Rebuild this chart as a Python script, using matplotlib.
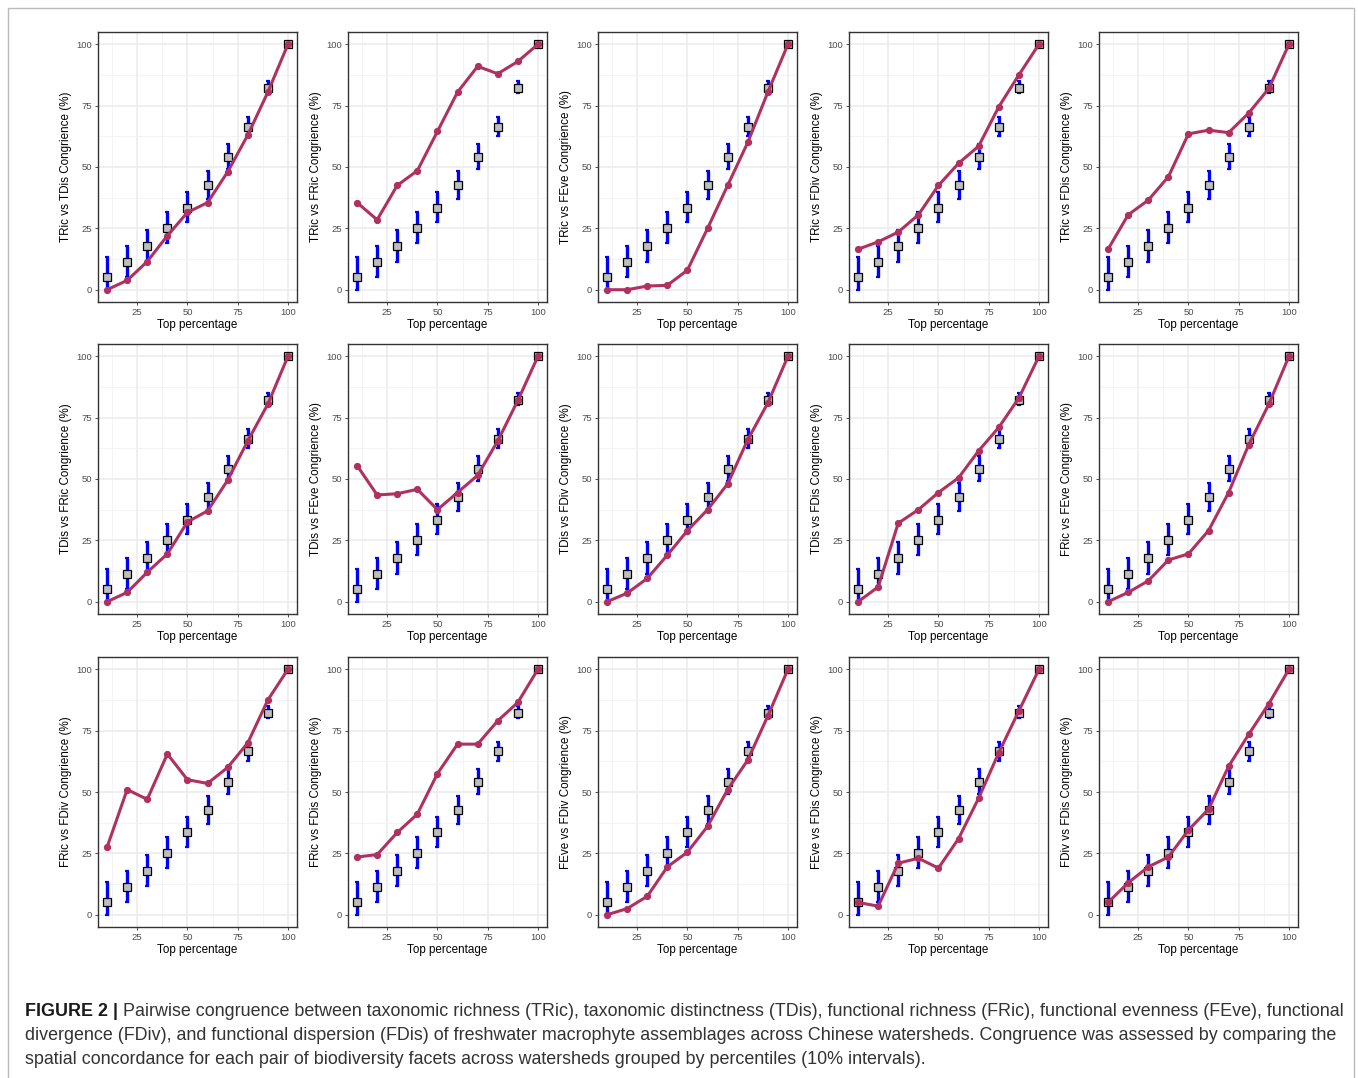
import matplotlib
matplotlib.use("Agg")
import matplotlib.pyplot as plt
from matplotlib.patches import Rectangle
import numpy as np

plt.rcParams['font.family'] = ['Liberation Sans', 'DejaVu Sans']

# ---------------- data ----------------
top_pct = [10, 20, 30, 40, 50, 60, 70, 80, 90, 100]

# null expectation (same in every panel)
null_mean = [5.3, 11.2, 17.7, 25.2, 33.5, 42.7, 54.1, 66.5, 82.2, 100.0]
null_low = [0.0, 5.0, 11.5, 19.0, 27.5, 37.0, 49.0, 62.5, 80.0, 100.0]
null_high = [13.5, 18.0, 24.5, 31.8, 40.0, 48.5, 59.5, 70.5, 85.0, 100.0]

pair_labels = [
    "TRic vs TDis", "TRic vs FRic", "TRic vs FEve", "TRic vs FDiv", "TRic vs FDis",
    "TDis vs FRic", "TDis vs FEve", "TDis vs FDiv", "TDis vs FDis", "FRic vs FEve",
    "FRic vs FDiv", "FRic vs FDis", "FEve vs FDiv", "FEve vs FDis", "FDiv vs FDis",
]

tric_tdis = [0.0, 3.8, 11.5, 22.0, 31.5, 35.5, 48.0, 63.0, 80.5, 100.0]
tric_fric = [35.5, 28.5, 42.5, 48.5, 64.5, 80.5, 91.0, 88.0, 93.0, 100.0]
tric_feve = [0.0, 0.0, 1.5, 1.8, 8.0, 25.0, 42.5, 60.0, 80.5, 100.0]
tric_fdiv = [16.5, 19.5, 23.5, 30.5, 42.5, 51.5, 58.5, 74.5, 87.5, 100.0]
tric_fdis = [16.5, 30.5, 36.5, 46.0, 63.5, 65.0, 64.0, 72.0, 82.0, 100.0]
tdis_fric = [0.0, 3.8, 12.0, 19.5, 32.5, 37.0, 49.5, 65.5, 80.5, 100.0]
tdis_feve = [55.5, 43.5, 44.0, 45.8, 37.5, 44.5, 51.5, 65.5, 82.0, 100.0]
tdis_fdiv = [0.0, 3.5, 9.5, 19.0, 29.0, 37.5, 48.0, 66.0, 81.0, 100.0]
tdis_fdis = [0.0, 6.0, 32.0, 37.5, 44.5, 50.5, 61.5, 71.0, 83.0, 100.0]
fric_feve = [0.0, 3.8, 8.5, 17.0, 19.5, 29.0, 44.5, 64.0, 80.5, 100.0]
fric_fdiv = [27.5, 51.0, 47.0, 65.5, 55.0, 53.5, 60.0, 70.0, 87.5, 100.0]
fric_fdis = [23.5, 24.5, 33.5, 41.0, 57.5, 69.5, 69.5, 79.0, 86.5, 100.0]
feve_fdiv = [0.0, 2.5, 7.5, 19.5, 25.5, 36.0, 51.0, 63.0, 81.0, 100.0]
feve_fdis = [5.0, 3.5, 21.0, 23.0, 19.0, 31.0, 47.5, 66.0, 83.0, 100.0]
fdiv_fdis = [5.0, 13.0, 19.5, 23.5, 34.5, 43.0, 60.5, 73.5, 86.0, 100.0]

observed = [tric_tdis, tric_fric, tric_feve, tric_fdiv, tric_fdis,
            tdis_fric, tdis_feve, tdis_fdiv, tdis_fdis, fric_feve,
            fric_fdiv, fric_fdis, feve_fdiv, feve_fdis, fdiv_fdis]

x_ticks = [25, 50, 75, 100]
y_ticks = [0, 25, 50, 75, 100]

caption_bold = "FIGURE 2 |"
caption_lines = [
    " Pairwise congruence between taxonomic richness (TRic), taxonomic distinctness (TDis), functional richness (FRic), functional evenness (FEve), functional",
    "divergence (FDiv), and functional dispersion (FDis) of freshwater macrophyte assemblages across Chinese watersheds. Congruence was assessed by comparing the",
    "spatial concordance for each pair of biodiversity facets across watersheds grouped by percentiles (10% intervals).",
]

# ---------------- layout ----------------
W, H = 1358, 1078
fig = plt.figure(figsize=(W / 100, H / 100), dpi=100)
fig.patch.set_facecolor("white")

col_left = [98, 348, 598, 849, 1099]
row_top = [32, 344, 657]
aw, ah = 199, 270

line_col = "#B03060"
x_arr = np.array(top_pct)
lo_err = np.array(null_mean) - np.array(null_low)
hi_err = np.array(null_high) - np.array(null_mean)

for i, (lab, obs) in enumerate(zip(pair_labels, observed)):
    r, c = divmod(i, 5)
    ax = fig.add_axes([col_left[c] / W, 1 - (row_top[r] + ah) / H, aw / W, ah / H])
    ax.set_xlim(5.5, 104.5)
    ax.set_ylim(-5, 105)
    ax.set_xticks(x_ticks)
    ax.set_yticks(y_ticks)
    ax.set_xticks([12.5, 37.5, 62.5, 87.5], minor=True)
    ax.set_yticks([12.5, 37.5, 62.5, 87.5], minor=True)
    ax.grid(True, which="major", color="#EBEBEB", linewidth=1.1, zorder=0)
    ax.grid(True, which="minor", color="#F2F2F2", linewidth=0.6, zorder=0)
    ax.set_axisbelow(True)
    ax.tick_params(which="minor", length=0)
    ax.tick_params(which="major", length=2.5, width=0.6, color="#333333",
                   labelsize=6.8, labelcolor="#4D4D4D", pad=2)
    for s in ax.spines.values():
        s.set_color("#333333")
        s.set_linewidth(1.0)

    ax.errorbar(x_arr, null_mean, yerr=[lo_err, hi_err], fmt="none",
                ecolor="#0000FF", elinewidth=2.4, capsize=1.6, capthick=1.6, zorder=2)
    ax.plot(x_arr, null_mean, linestyle="none", marker="s", markersize=5.2,
            markerfacecolor="#BEBEBE", markeredgecolor="black", markeredgewidth=0.9, zorder=3)
    ax.plot(x_arr, obs, color=line_col, linewidth=2.2, marker="o", markersize=4.2,
            markerfacecolor=line_col, markeredgecolor=line_col, zorder=4)

    ax.set_xlabel("Top percentage", fontsize=8.4, color="black", labelpad=1.5)
    ax.set_ylabel(f"{lab} Congrience (%)", fontsize=8.4, color="black", labelpad=3)

# frame around figure
fig.patches.append(Rectangle((8 / W, -0.01), (1354 - 8) / W, 1 - 8 / H + 0.01,
                             transform=fig.transFigure, fill=False,
                             edgecolor="#BBBBBB", linewidth=1.0))

# caption
cap_size = 12.9
cap_y = [1011, 1036, 1060]
tb = fig.text(25 / W, 1 - cap_y[0] / H, caption_bold, fontsize=cap_size,
              fontweight="bold", color="#1a1a1a", va="center", ha="left")
fig.canvas.draw()
bb = tb.get_window_extent(renderer=fig.canvas.get_renderer())
fig.text(bb.x1 / W, 1 - cap_y[0] / H, caption_lines[0], fontsize=cap_size,
         color="#333333", va="center", ha="left")
for k in (1, 2):
    fig.text(25 / W, 1 - cap_y[k] / H, caption_lines[k], fontsize=cap_size,
             color="#333333", va="center", ha="left")

fig.savefig("out.png", dpi=100, facecolor="white")
